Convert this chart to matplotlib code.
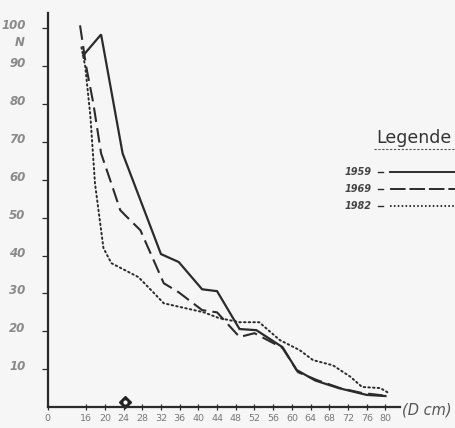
import matplotlib
matplotlib.use("Agg")
import matplotlib.pyplot as plt
import matplotlib.transforms as mtransforms
from matplotlib.lines import Line2D

# ---- data (diameter class D in cm, number of trees N) ----
x_1959 = [15.4, 19.2, 23.8, 32.0, 35.8, 40.8, 44.0, 48.8, 52.4, 58.0, 61.0, 65.0, 70.0, 76.0, 80.0]
n_1959 = [92.9, 98.4, 67.0, 40.4, 38.3, 31.1, 30.6, 20.6, 20.3, 15.8, 9.8, 7.0, 5.0, 3.2, 2.9]

x_1969 = [14.7, 16.0, 17.5, 19.2, 21.4, 23.3, 24.4, 27.6, 32.6, 35.8, 40.8, 44.0, 48.8, 52.0, 58.0, 61.3, 65.4, 70.3, 75.0, 80.0]
n_1969 = [100.8, 90.0, 80.5, 67.0, 59.0, 52.0, 50.6, 46.7, 32.7, 30.3, 25.6, 25.0, 18.5, 19.5, 15.6, 9.2, 7.1, 5.0, 3.7, 3.0]

x_1982 = [15.0, 15.8, 16.9, 17.9, 19.7, 21.4, 27.2, 30.9, 32.6, 41.2, 44.4, 48.8, 53.0, 57.4, 61.7, 64.5, 68.8, 72.5, 75.0, 78.9, 81.0]
n_1982 = [95.0, 90.0, 77.0, 59.0, 42.0, 38.0, 34.3, 29.6, 27.4, 25.0, 23.5, 22.4, 22.4, 17.7, 15.0, 12.4, 11.0, 8.0, 5.3, 5.0, 3.5]

series_labels = ["1959", "1969", "1982"]

x_ticks = [7.8, 16, 20, 24, 28, 32, 36, 40, 44, 48, 52, 56, 60, 64, 68, 72, 76, 80]
x_tick_labels = ["0", "16", "20", "24", "28", "32", "36", "40", "44", "48", "52", "56", "60", "64", "68", "72", "76", "80"]
y_ticks = [10, 20, 30, 40, 50, 60, 70, 80, 90, 100]
y_tick_labels = ["10", "20", "30", "40", "50", "60", "70", "80", "90", "100"]

line_col = "#2b2b2b"
tick_col = "#8a8a8a"
bg = "#f6f6f6"

fig = plt.figure(figsize=(4.55, 4.28), dpi=100, facecolor=bg)
ax = fig.add_axes([0.105, 0.049, 0.775, 0.92], facecolor=bg)

ax.plot(x_1959, n_1959, color=line_col, lw=1.6, solid_joinstyle="miter")
ax.plot(x_1969, n_1969, color=line_col, lw=1.5, dashes=(7, 3))
ax.plot(x_1982, n_1982, color=line_col, lw=1.4, dashes=(0.8, 1.6), dash_capstyle="round")

# small marker on the axis at D = 24
ax.plot([24.3], [1.2], marker="D", ms=6, color="#222222", mfc="#222222", clip_on=False)
ax.plot([24.3], [1.2], marker="o", ms=2, color="white", clip_on=False)

ax.set_xlim(7.8, 83.2)
ax.set_ylim(0, 104)

for s in ["top", "right"]:
    ax.spines[s].set_visible(False)
for s in ["left", "bottom"]:
    ax.spines[s].set_color(line_col)
    ax.spines[s].set_linewidth(1.6)

ax.set_xticks(x_ticks)
ax.set_xticklabels(x_tick_labels, fontsize=6.8, color="#777777")
ax.set_yticks(y_ticks)
ax.set_yticklabels(y_tick_labels, fontsize=8.5, color=tick_col, style="italic",
                   fontweight="bold")
ax.tick_params(axis="x", direction="inout", length=4, width=0.9, color=line_col, pad=3)
ax.tick_params(axis="y", direction="out", length=4, width=0.9, color=line_col, pad=12)

off = mtransforms.ScaledTranslation(0, 4 / 100, fig.dpi_scale_trans)
for lab in ax.get_yticklabels():
    lab.set_transform(lab.get_transform() + off)

# axis annotations
fig.text(20 / 455, 1 - 42 / 428, "N", fontsize=8.5, style="italic", color=tick_col,
         fontweight="bold", ha="center", va="center")
fig.text(402 / 455, 1 - 410 / 428, "(D cm)", fontsize=10.5, style="italic", color="#555555",
         ha="left", va="center")

# hand-drawn legend
fig.text(376 / 455, 1 - 138 / 428, "Legende", fontsize=12.5, color="#333333",
         ha="left", va="center")
fig.add_artist(Line2D([374 / 455, 1.0], [1 - 149 / 428] * 2, color="#555555", lw=0.8,
                      dashes=(2, 1.5)))
leg_y = [172, 189, 206]
leg_styles = [dict(), dict(dashes=(8, 2)), dict(dashes=(0.8, 1.2))]
for lab, yy, st in zip(series_labels, leg_y, leg_styles):
    yf = 1 - yy / 428
    fig.text(345 / 455, yf, lab, fontsize=7, style="italic", fontweight="bold",
             color="#444444", ha="left", va="center")
    fig.add_artist(Line2D([378 / 455, 383 / 455], [yf, yf], color=line_col, lw=1.0))
    fig.add_artist(Line2D([390 / 455, 1.0], [yf, yf], color=line_col, lw=1.4, **st))

fig.savefig("out.png", dpi=100, facecolor=bg)
